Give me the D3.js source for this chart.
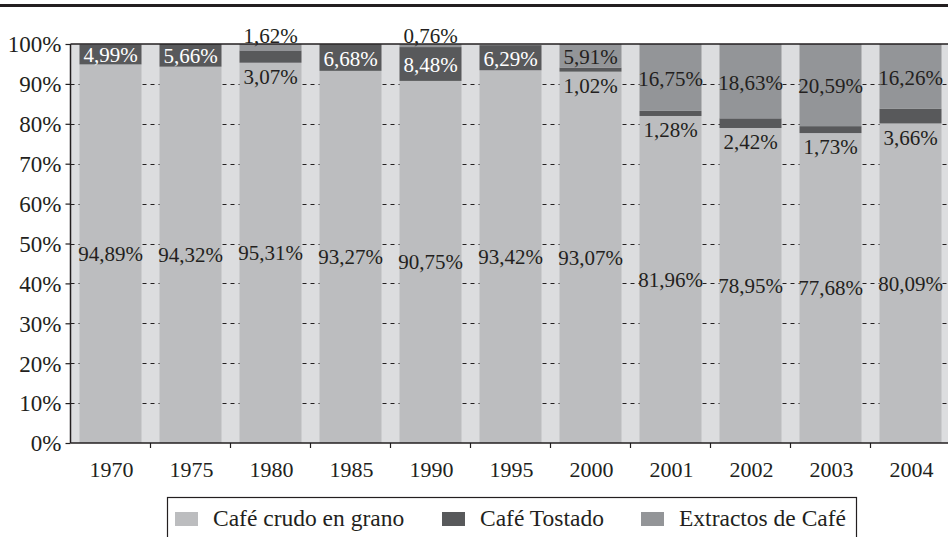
<!DOCTYPE html>
<html><head><meta charset="utf-8">
<script src="https://cdn.jsdelivr.net/npm/d3@7/dist/d3.min.js"></script>
<style>
html,body{margin:0;padding:0;background:#fff;}
svg{display:block;}
</style></head>
<body>
<svg id="chart" width="948" height="537"></svg>
<script>
const years = ["1970","1975","1980","1985","1990","1995","2000","2001","2002","2003","2004"];
const crudo = [94.89,94.32,95.31,93.27,90.75,93.42,93.07,81.96,78.95,77.68,80.09];
const tostado = [4.99,5.66,3.07,6.68,8.48,6.29,1.02,1.28,2.42,1.73,3.66];
const extractos = [null,null,1.62,null,0.76,null,5.91,16.75,18.63,20.59,16.26];
const seriesNames = ["Café crudo en grano","Café Tostado","Extractos de Café"];
const yTicks = [0,10,20,30,40,50,60,70,80,90,100];

const FONT = "'Nimbus Roman','Liberation Serif','Times New Roman',serif";
const INK = "#231f20";
const colors = ["#bcbdbf","#58595b","#939598"];
const fmt = v => v.toFixed(2).replace(".", ",") + "%";

const svg = d3.select("#chart");
const L = 70.5, R = 950.5, T = 44, B = 443;

const x = d3.scaleBand().domain(years).range([L, R]).paddingInner(0.225).paddingOuter(0.1125);
const y = d3.scaleLinear().domain([0,100]).range([B, T]);

function txt(sel, size, color){
  return sel.style("font-family", FONT).style("font-size", size+"px").style("fill", color||INK);
}

// top rule
svg.append("rect").attr("x",0).attr("y",4).attr("width",948).attr("height",3).attr("fill",INK);

// plot background
svg.append("rect").attr("x",L).attr("y",T).attr("width",R-L).attr("height",B-T).attr("fill","#dcdddf");

// dashed gridlines
svg.append("g").selectAll("line").data(yTicks.filter(d=>d>0 && d<100)).join("line")
  .attr("x1",L).attr("x2",R).attr("y1",d=>Math.round(y(d))+0.5).attr("y2",d=>Math.round(y(d))+0.5)
  .attr("stroke",INK).attr("stroke-width",1).attr("stroke-dasharray","4,4");

// stacked data
const rows = years.map((yr,i)=>({year:yr, crudo:crudo[i], tostado:tostado[i], extractos:extractos[i]||0}));
const stack = d3.stack().keys(["crudo","tostado","extractos"])(rows);

const g = svg.append("g");
stack.forEach((layer,k)=>{
  g.append("g").selectAll("rect").data(layer).join("rect")
    .attr("x",d=>x(d.data.year)).attr("width",x.bandwidth())
    .attr("y",d=>y(d[1])).attr("height",d=>Math.max(0,y(d[0])-y(d[1])))
    .attr("fill",colors[k]);
});

// top border line at 100%
svg.append("line").attr("x1",L).attr("x2",948).attr("y1",T).attr("y2",T)
  .attr("stroke",INK).attr("stroke-width",1.5);

// labels
const lab = svg.append("g").attr("text-anchor","middle");
years.forEach((yr,i)=>{
  const cx = x(yr) + x.bandwidth()/2;
  txt(lab.append("text").attr("x",cx).attr("y",y(crudo[i]/2)).attr("dy","0.35em").text(fmt(crudo[i])), 21);
  const t0 = crudo[i], t1 = crudo[i]+tostado[i];
  if (tostado[i] >= 4) {
    txt(lab.append("text").attr("x",cx).attr("y",y((t0+t1)/2)).attr("dy","0.38em").text(fmt(tostado[i])), 21, "#ffffff");
  } else {
    txt(lab.append("text").attr("x",cx).attr("y",y(t0)+14).attr("dy","0.35em").text(fmt(tostado[i])), 21);
  }
  if (extractos[i] != null) {
    if (extractos[i] >= 5) {
      txt(lab.append("text").attr("x",cx).attr("y",(y(t1)+y(t1+extractos[i]))/2+1).attr("dy","0.35em").text(fmt(extractos[i])), 21);
    } else {
      txt(lab.append("text").attr("x",cx).attr("y",y(100)-1).text(fmt(extractos[i])), 21);
    }
  }
});

// y axis
const yAxis = d3.axisLeft(y).tickValues(yTicks).tickFormat(d=>d+"%").tickSize(5).tickPadding(4);
const ya = svg.append("g").attr("transform",`translate(${L},0)`).call(yAxis);
ya.select(".domain").attr("stroke",INK).attr("stroke-width",1.5).attr("d",`M0,${T}V${B}`);
ya.selectAll(".tick line").attr("stroke",INK).attr("stroke-width",1.2);
txt(ya.selectAll(".tick text"), 23).attr("dy","0.34em");

// x axis
const xa = svg.append("g").attr("transform",`translate(0,${B})`);
xa.append("line").attr("x1",L).attr("x2",948).attr("y1",0).attr("y2",0).attr("stroke",INK).attr("stroke-width",1.5);
const gap = x.step() - x.bandwidth();
xa.selectAll("line.tk").data(years).join("line").attr("class","tk")
  .attr("x1",d=>x(d)+x.bandwidth()+gap/2).attr("x2",d=>x(d)+x.bandwidth()+gap/2)
  .attr("y1",0).attr("y2",5).attr("stroke",INK).attr("stroke-width",1.2);
txt(xa.selectAll("text").data(years).join("text")
  .attr("x",d=>x(d)+x.bandwidth()/2+1).attr("y",34).attr("text-anchor","middle").text(d=>d), 22);

// legend
const lg = svg.append("g");
lg.append("rect").attr("x",167.5).attr("y",497.5).attr("width",689).attr("height",60)
  .attr("fill","#fff").attr("stroke",INK).attr("stroke-width",1.2);
const legX = [175,442,641];
seriesNames.forEach((n,k)=>{
  lg.append("rect").attr("x",legX[k]).attr("y",512).attr("width",23).attr("height",14).attr("fill",colors[k]);
  txt(lg.append("text").attr("x",legX[k]+38).attr("y",526).text(n), 23.5);
});
</script>
</body></html>
